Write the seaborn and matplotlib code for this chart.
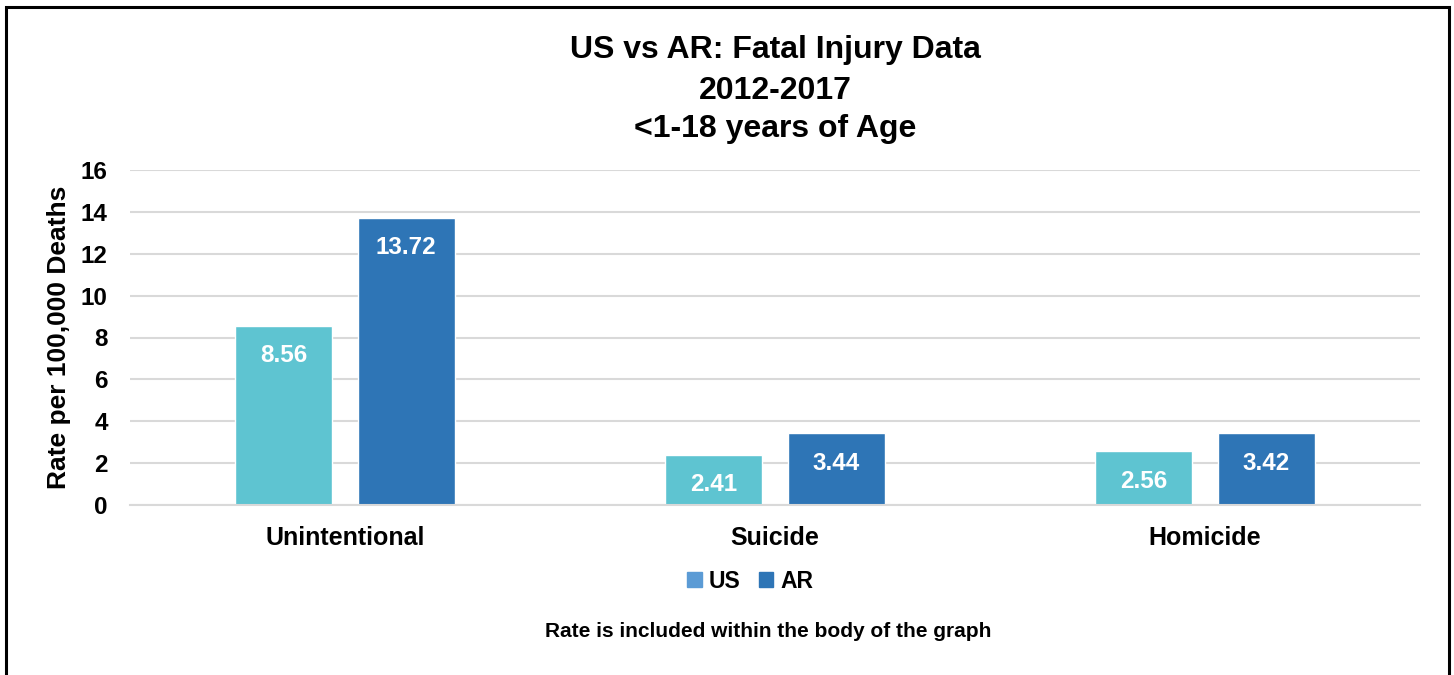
import matplotlib
matplotlib.use("Agg")
import matplotlib.pyplot as plt
import matplotlib.patches as mpatches
import seaborn as sns
import pandas as pd

# ---- data ----
categories = ["Unintentional", "Suicide", "Homicide"]
us_rates = [8.56, 2.41, 2.56]
ar_rates = [13.72, 3.44, 3.42]
series_names = ["US", "AR"]
y_ticks = [0, 2, 4, 6, 8, 10, 12, 14, 16]

title_lines = ["US vs AR: Fatal Injury Data", "2012-2017", "<1-18 years of Age"]
y_label = "Rate per 100,000 Deaths"
footnote = "Rate is included within the body of the graph"

bar_colors = {"US": "#5EC4D1", "AR": "#2E75B6"}
legend_colors = {"US": "#5B9BD5", "AR": "#2E75B6"}

df = pd.DataFrame({
    "category": categories * 2,
    "rate": us_rates + ar_rates,
    "region": ["US"] * len(categories) + ["AR"] * len(categories),
})

sns.set_style("white")
plt.rcParams["font.family"] = ["Liberation Sans", "DejaVu Sans"]
plt.rcParams["font.weight"] = "bold"
for key in ["text.color", "axes.labelcolor", "xtick.color", "ytick.color"]:
    plt.rcParams[key] = "black"

W, H = 1454, 675
fig = plt.figure(figsize=(W / 100, H / 100), dpi=100)
ax = fig.add_axes([130 / W, 1 - 505 / H, (1420 - 130) / W, (505 - 170) / H])

sns.barplot(data=df, x="category", y="rate", hue="region", order=categories,
            hue_order=series_names, palette=bar_colors, width=0.57, gap=0.21,
            saturation=1, legend=False, ax=ax, errorbar=None)

for cont in ax.containers:
    labels = [f"{v:.2f}" for v in cont.datavalues]
    ax.bar_label(cont, labels=labels, padding=-30, color="white",
                 fontsize=17.5, fontweight="bold")

ax.set_ylim(0, 16)
ax.set_xlim(-0.5, len(categories) - 0.5)
ax.set_yticks(y_ticks)
ax.set_yticklabels([str(t) for t in y_ticks], fontsize=17.5, fontweight="bold")
ax.set_xticklabels(categories, fontsize=18, fontweight="bold")
ax.tick_params(axis="y", length=0, pad=16)
ax.tick_params(axis="x", length=0, pad=15)
ax.set_xlabel("")
ax.set_ylabel(y_label, fontsize=19, fontweight="bold", labelpad=7)
ax.yaxis.grid(True, color="#D9D9D9", linewidth=1.5)
ax.set_axisbelow(True)
for side in ["left", "right", "top"]:
    ax.spines[side].set_visible(False)
ax.spines["bottom"].set_color("#D9D9D9")
ax.spines["bottom"].set_linewidth(1.5)

handles = [mpatches.Patch(color=legend_colors[n], label=n) for n in series_names]
fig.legend(handles=handles, loc="center", bbox_to_anchor=(750 / W, 1 - 581 / H),
           ncol=2, frameon=False, prop={"size": 16.5, "weight": "bold"},
           handlelength=0.65, handleheight=0.65, handletextpad=0.3, columnspacing=0.8)

for line, yb in zip(title_lines, [58, 99, 137]):
    fig.text(775 / W, 1 - yb / H, line, ha="center", va="baseline",
             fontsize=23, fontweight="bold")

fig.text(768 / W, 1 - 637 / H, footnote, ha="center", va="baseline",
         fontsize=15, fontweight="bold")

frame = mpatches.Rectangle((6 / W, -0.05), (1449 - 6) / W, 1 - 7 / H + 0.05,
                           transform=fig.transFigure, fill=False,
                           edgecolor="black", linewidth=2.2, clip_on=False)
fig.patches.append(frame)

fig.savefig("out.png", dpi=100)
